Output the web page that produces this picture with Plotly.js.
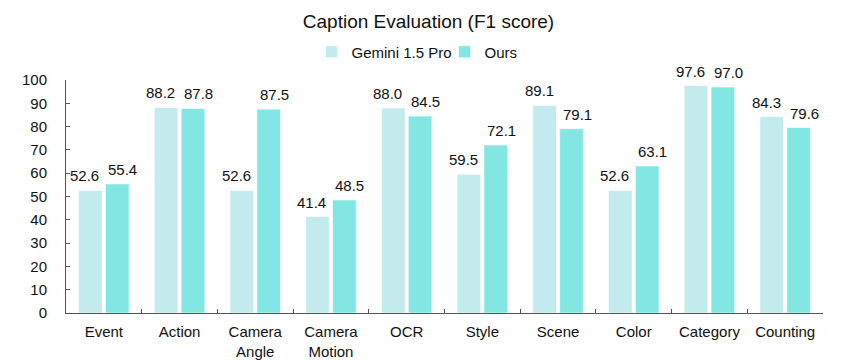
<!DOCTYPE html>
<html><head><meta charset="utf-8">
<script src="https://cdn.plot.ly/plotly-3.0.1.min.js"></script>
<style>body{margin:0;background:#fff}#c{width:857px;height:361px}</style>
</head><body><div id="c"></div>
<script>
var categories = ["Event","Action","Camera<br>Angle","Camera<br>Motion","OCR","Style","Scene","Color","Category","Counting"];
var gemini = [52.6,88.2,52.6,41.4,88.0,59.5,89.1,52.6,97.6,84.3];
var ours = [55.4,87.8,87.5,48.5,84.5,72.1,79.1,63.1,97.0,79.6];
var seriesNames = ["Gemini 1.5 Pro","Ours"];
var yTicks = [0,10,20,30,40,50,60,70,80,90,100];

var font = "Liberation Sans, Arial, sans-serif";
function mk(name, vals, color){
  return {type:"bar", name:name, x:categories, y:vals,
    marker:{color:color, line:{color:"rgba(255,255,255,0.6)", width:1}}};
}
var data = [mk(seriesNames[0], gemini, "#C3EBEE"), mk(seriesNames[1], ours, "#82E7E2")];
var annotations = [];
[[gemini,-19],[ours,19]].forEach(function(p){
  p[0].forEach(function(v,i){
    annotations.push({x:categories[i], y:v, xref:"x", yref:"y", text:v.toFixed(1), showarrow:false,
      xanchor:"center", yanchor:"bottom", xshift:p[1], yshift:4,
      font:{family:font,size:15,color:"#111"}});
  });
});
var layout = {
  width:857, height:361,
  margin:{l:66,r:34,t:80,b:48},
  paper_bgcolor:"#fff", plot_bgcolor:"#fff",
  font:{family:font,size:15,color:"#111"},
  title:{text:"Caption Evaluation (F1 score)", font:{family:font,size:19,color:"#111"}, x:0.5, xanchor:"center", y:0.94, yanchor:"middle"},
  barmode:"group", bargap:0.29, bargroupgap:0.12,
  showlegend:true,
  legend:{orientation:"h", x:0.5, xanchor:"center", y:1.12, yanchor:"middle", font:{family:font,size:15,color:"#111"}, itemwidth:30, entrywidth:88, traceorder:"normal"},
  annotations:annotations,
  xaxis:{showline:true, linecolor:"#555", linewidth:1, ticks:"inside", tickson:"boundaries", ticklen:4, tickcolor:"#555",
         tickfont:{family:font,size:15,color:"#111"}, showgrid:false, zeroline:false, ticklabelstandoff:5},
  yaxis:{range:[0,100], tickvals:yTicks, showline:true, linecolor:"#555", linewidth:1, ticks:"inside", ticklen:4, tickcolor:"#555",
         tickfont:{family:font,size:15,color:"#111"}, showgrid:false, zeroline:false, ticklabelstandoff:15}
};
Plotly.newPlot("c", data, layout, {displayModeBar:false, staticPlot:true});
</script></body></html>
